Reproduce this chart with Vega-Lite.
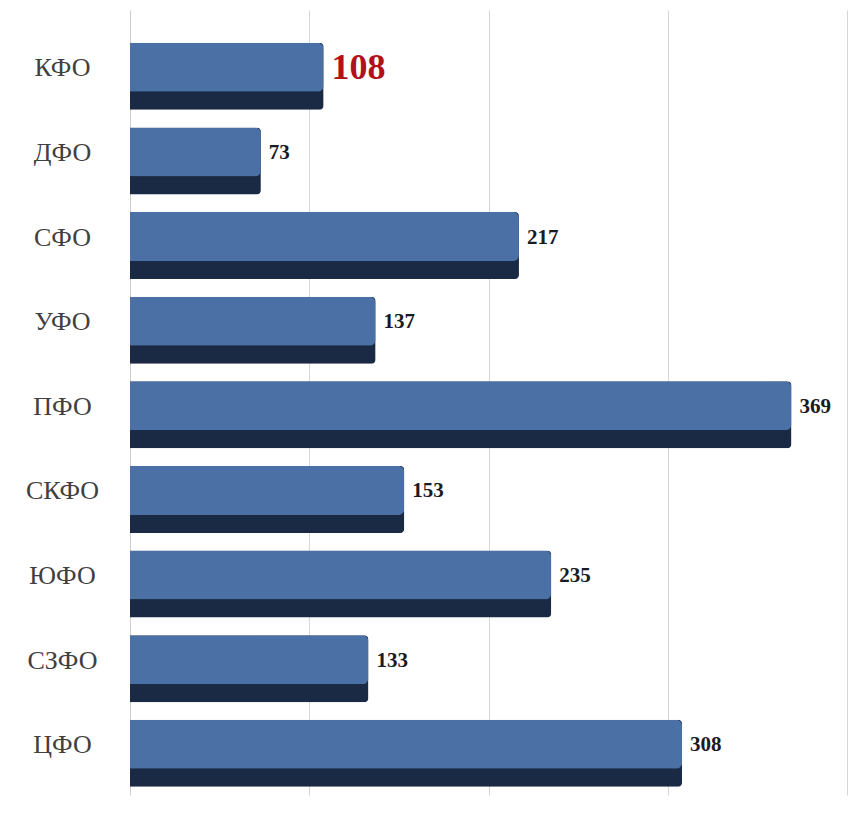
{
  "$schema": "https://vega.github.io/schema/vega-lite/v6.json",
  "width": 717,
  "height": 785,
  "autosize": {"type": "none"},
  "padding": {"left": 130, "top": 10, "right": 7, "bottom": 23},
  "background": "white",
  "config": {"view": {"stroke": null}},
  "data": {
    "values": [
      {"region": "КФО", "value": 108},
      {"region": "ДФО", "value": 73},
      {"region": "СФО", "value": 217},
      {"region": "УФО", "value": 137},
      {"region": "ПФО", "value": 369},
      {"region": "СКФО", "value": 153},
      {"region": "ЮФО", "value": 235},
      {"region": "СЗФО", "value": 133},
      {"region": "ЦФО", "value": 308}
    ]
  },
  "encoding": {
    "y": {
      "field": "region",
      "type": "nominal",
      "sort": null,
      "scale": {"paddingInner": 0.208, "paddingOuter": 0.2425, "align": 0.8},
      "axis": {
        "title": null,
        "ticks": false,
        "domain": true,
        "domainColor": "#cfcfcf",
        "labelFont": "Liberation Serif",
        "labelFontSize": 26,
        "labelColor": "#404040",
        "labelAlign": "center",
        "labelPadding": 68,
        "labelOffset": -8
      }
    },
    "x": {
      "field": "value",
      "type": "quantitative",
      "scale": {"domain": [0, 400], "nice": false},
      "axis": {
        "title": null,
        "labels": false,
        "ticks": false,
        "domain": false,
        "grid": true,
        "gridColor": "#d6d6d6",
        "values": [100, 200, 300, 400]
      }
    }
  },
  "layer": [
    {
      "mark": {"type": "bar", "color": "#1b2a44", "cornerRadiusEnd": 4}
    },
    {
      "mark": {"type": "bar", "color": "#4a70a6", "height": 49, "yOffset": -9, "cornerRadiusEnd": 6}
    },
    {
      "mark": {"type": "text", "align": "left", "baseline": "middle", "dx": 8, "yOffset": -8, "font": "Liberation Serif", "fontWeight": "bold"},
      "encoding": {
        "text": {"field": "value", "type": "quantitative"},
        "color": {
          "condition": {"test": "datum.region === 'КФО'", "value": "#b0121b"},
          "value": "#1a1a24"
        },
        "size": {
          "condition": {"test": "datum.region === 'КФО'", "value": 36},
          "value": 21
        }
      }
    }
  ]
}
